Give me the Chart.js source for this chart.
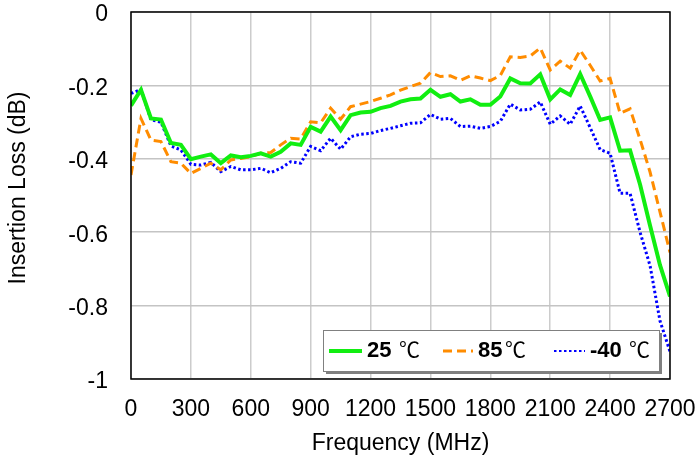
<!DOCTYPE html>
<html>
<head>
<meta charset="utf-8">
<script src="https://cdn.jsdelivr.net/npm/chart.js@4.4.0/dist/chart.umd.min.js"></script>
<style>
  html, body { margin: 0; padding: 0; background: #fff; }
</style>
</head>
<body>
<canvas id="graph" width="700" height="462"></canvas>
<script>
// frequency points (MHz)
const freq = [0, 50, 100, 150, 200, 250, 300, 350, 400, 450, 500, 550, 600, 650, 700, 750, 800, 850, 900, 950,
  1000, 1050, 1100, 1150, 1200, 1250, 1300, 1350, 1400, 1450, 1500, 1550, 1600, 1650, 1700, 1750, 1800, 1850, 1900, 1950,
  2000, 2050, 2100, 2150, 2200, 2250, 2300, 2350, 2400, 2450, 2500, 2550, 2600, 2650, 2700]

// insertion loss (dB) at 25 C
const il25 = [-0.255, -0.212, -0.290, -0.293, -0.357, -0.362, -0.401, -0.394, -0.388, -0.412, -0.391, -0.396, -0.392, -0.385, -0.394, -0.381, -0.358, -0.362, -0.313, -0.326,
  -0.285, -0.322, -0.281, -0.274, -0.272, -0.262, -0.256, -0.244, -0.238, -0.236, -0.212, -0.231, -0.224, -0.244, -0.238, -0.253, -0.253, -0.230, -0.181, -0.194,
  -0.195, -0.170, -0.238, -0.211, -0.226, -0.169, -0.230, -0.294, -0.287, -0.378, -0.377, -0.470, -0.582, -0.690, -0.775]

// insertion loss (dB) at 85 C
const il85 = [-0.444, -0.290, -0.349, -0.353, -0.408, -0.412, -0.440, -0.426, -0.412, -0.430, -0.403, -0.399, -0.394, -0.385, -0.383, -0.362, -0.344, -0.346, -0.299, -0.302,
  -0.262, -0.292, -0.258, -0.251, -0.244, -0.235, -0.226, -0.213, -0.203, -0.194, -0.165, -0.176, -0.174, -0.186, -0.174, -0.180, -0.187, -0.173, -0.122, -0.124,
  -0.120, -0.098, -0.158, -0.134, -0.153, -0.104, -0.145, -0.188, -0.181, -0.276, -0.264, -0.347, -0.436, -0.545, -0.655]

// insertion loss (dB) at -40 C
const ilM40 = [-0.222, -0.211, -0.294, -0.300, -0.365, -0.376, -0.415, -0.417, -0.410, -0.435, -0.421, -0.430, -0.430, -0.426, -0.438, -0.426, -0.408, -0.412, -0.366, -0.378,
  -0.344, -0.374, -0.340, -0.333, -0.331, -0.323, -0.317, -0.310, -0.303, -0.302, -0.279, -0.292, -0.290, -0.312, -0.311, -0.317, -0.312, -0.298, -0.251, -0.267,
  -0.265, -0.245, -0.306, -0.283, -0.306, -0.256, -0.315, -0.375, -0.385, -0.494, -0.494, -0.600, -0.691, -0.842, -0.925]

const xTicks = [0, 300, 600, 900, 1200, 1500, 1800, 2100, 2400, 2700]
const yTicks = [0, -0.2, -0.4, -0.6, -0.8, -1]
const tempLabels = ['25', '85', '-40']

const fontFam = '"Liberation Sans", Arial, "Noto Sans CJK SC", sans-serif'

function pts(vals) {
  return freq.map((f, i) => ({ x: f, y: vals[i] }))
}

// no extra room for overhanging tick labels, the layout padding handles it
function noPad(s) {
  s.paddingTop = 0
  s.paddingBottom = 0
  s.paddingLeft = 0
  s.paddingRight = 0
}

// frame round the plot area + custom legend box + y title
const decor = {
  id: 'decor',
  afterDatasetsDraw(chart) {
    const { ctx, chartArea: a } = chart
    ctx.save()
    ctx.strokeStyle = '#000'
    ctx.lineWidth = 1.5
    ctx.strokeRect(a.left, a.top, a.right - a.left, a.bottom - a.top)
    ctx.restore()
  },
  afterDraw(chart) {
    const ctx = chart.ctx
    ctx.save()
    // y axis title
    ctx.fillStyle = '#000'
    ctx.font = '23px ' + fontFam
    ctx.textAlign = 'center'
    ctx.textBaseline = 'middle'
    ctx.translate(19, 188)
    ctx.rotate(-Math.PI / 2)
    ctx.fillText('Insertion Loss (dB)', 0, 0)
    ctx.restore()

    // legend
    ctx.save()
    const bx = 323, by = 330, bw = 336, bh = 41
    ctx.fillStyle = '#808080'
    ctx.fillRect(bx + 3, by + 3, bw, bh)
    ctx.fillStyle = '#fff'
    ctx.fillRect(bx, by, bw, bh)
    ctx.strokeStyle = '#808080'
    ctx.lineWidth = 1
    ctx.strokeRect(bx + 0.5, by + 0.5, bw, bh)

    const cy = by + 21
    const items = [
      { x0: 329, x1: 362, tx: 367, cx: 399 },
      { x0: 443, x1: 473, tx: 478, cx: 505 },
      { x0: 554, x1: 585, tx: 590, cx: 629 }
    ]
    chart.data.datasets.forEach((ds, i) => {
      const it = items[i]
      ctx.strokeStyle = ds.borderColor
      ctx.lineWidth = i == 2 ? 2 : ds.borderWidth
      ctx.setLineDash(ds.borderDash || [])
      ctx.beginPath()
      ctx.moveTo(it.x0, cy)
      ctx.lineTo(it.x1, cy)
      ctx.stroke()
      ctx.setLineDash([])
      ctx.fillStyle = '#000'
      ctx.textAlign = 'left'
      ctx.textBaseline = 'middle'
      ctx.font = 'bold 22px ' + fontFam
      ctx.fillText(tempLabels[i], it.tx, cy)
      ctx.font = '21px ' + fontFam
      ctx.fillText('℃', it.cx, cy)
    })
    ctx.restore()
  }
}

new Chart(document.getElementById('graph'), {
  type: 'line',
  data: {
    datasets: [
      { label: '25 ℃', data: pts(il25), borderColor: '#11ee11', borderWidth: 4, pointRadius: 0, tension: 0 },
      { label: '85℃', data: pts(il85), borderColor: '#ff8c00', borderWidth: 3, borderDash: [9, 5], pointRadius: 0, tension: 0 },
      { label: '-40 ℃', data: pts(ilM40), borderColor: '#0000ff', borderWidth: 3, borderDash: [2.5, 2.5], pointRadius: 0, tension: 0 }
    ]
  },
  options: {
    responsive: false,
    animation: false,
    events: [],
    layout: { padding: { left: 0, right: 30, top: 12, bottom: 0 } },
    plugins: { legend: { display: false }, tooltip: { enabled: false } },
    scales: {
      x: {
        type: 'linear',
        min: 0, max: 2700,
        afterBuildTicks: s => { s.ticks = xTicks.map(v => ({ value: v })) },
        afterFit: s => { s.height = 83; noPad(s) },
        grid: { color: '#cccccc', lineWidth: 1.5, drawTicks: false },
        border: { display: false },
        ticks: { color: '#000', padding: 17, maxRotation: 0, font: { size: 23, family: fontFam }, callback: v => String(v) },
        title: { display: true, text: 'Frequency (MHz)', color: '#000', font: { size: 23, family: fontFam }, padding: { top: 0, bottom: 5 } }
      },
      y: {
        min: -1, max: 0,
        afterBuildTicks: s => { s.ticks = yTicks.map(v => ({ value: v })) },
        afterFit: s => { s.width = 131; noPad(s) },
        grid: { color: '#c4c4c4', lineWidth: 1.5, drawTicks: false },
        border: { display: false },
        ticks: { color: '#000', padding: 23, labelOffset: 3, font: { size: 23, family: fontFam }, callback: v => String(+v.toFixed(1)) }
      }
    }
  },
  plugins: [decor]
})
</script>
</body>
</html>
